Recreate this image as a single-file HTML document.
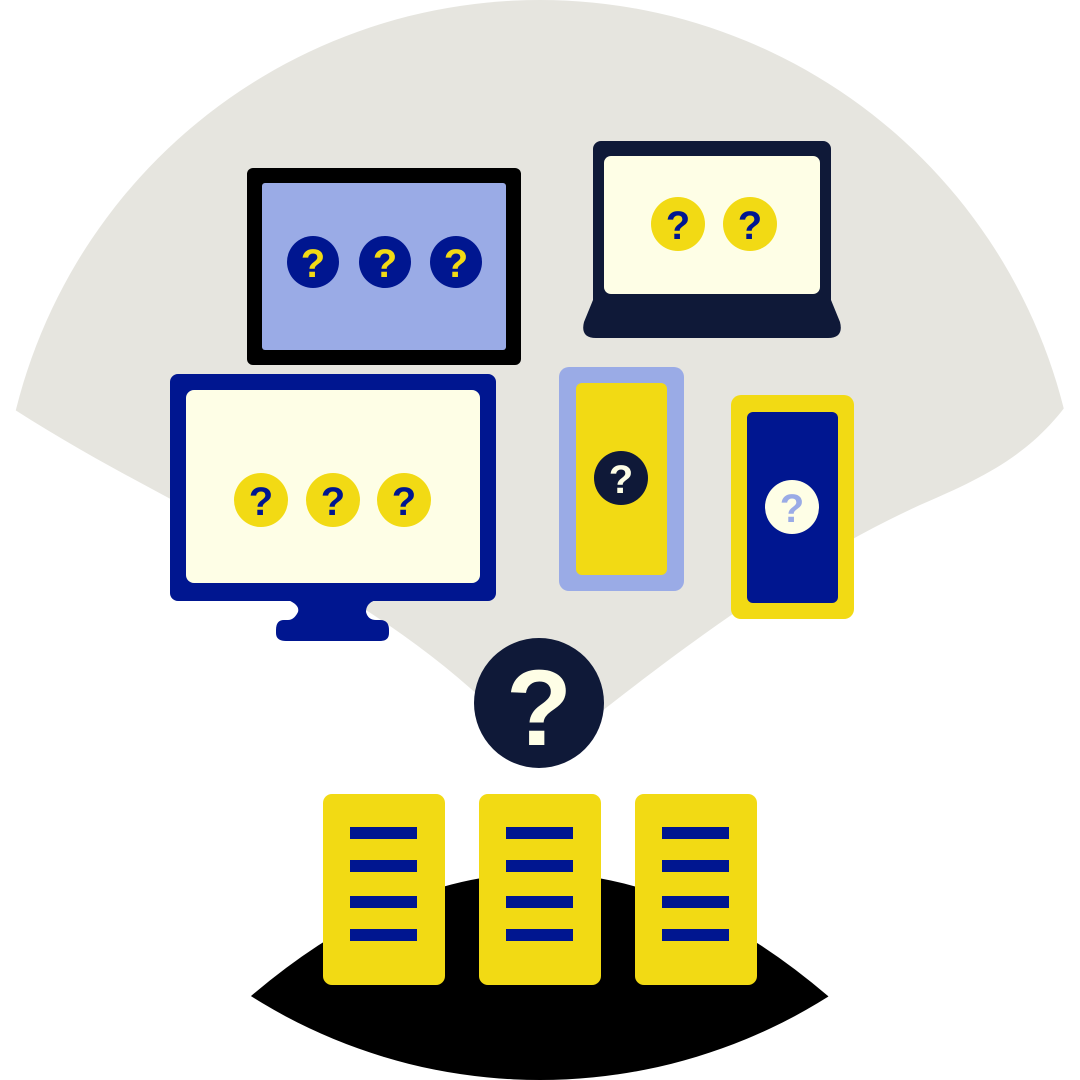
<!DOCTYPE html>
<html><head><style>
html,body{margin:0;padding:0;background:#fff;}
svg{display:block;}
text{font-family:"Liberation Sans",sans-serif;font-weight:bold;text-anchor:middle;}
</style></head><body>
<svg width="1080" height="1080" viewBox="0 0 1080 1080" xmlns="http://www.w3.org/2000/svg">
<defs><clipPath id="c"><circle cx="540" cy="540" r="540"/></clipPath></defs>
<g clip-path="url(#c)">
<path d="M0,400 C180,520 400,590 540,760 C690,640 800,560 920,505 C990,475 1040,450 1080,385 L1080,0 L0,0 Z" fill="#e6e5df"/>
<path d="M251,996 Q540,750 828,996 L900,1080 L180,1080 Z" fill="#000"/>
</g>
<!-- black monitor -->
<rect x="247" y="168" width="274" height="197" rx="6" fill="#000"/>
<rect x="262" y="183" width="244" height="167" rx="3" fill="#9aabe6"/>
<g font-size="40">
<circle cx="313" cy="262" r="26" fill="#001690"/><text x="313" y="277" fill="#f2da14">?</text>
<circle cx="385" cy="262" r="26" fill="#001690"/><text x="385" y="277" fill="#f2da14">?</text>
<circle cx="456" cy="262" r="26" fill="#001690"/><text x="456" y="277" fill="#f2da14">?</text>
</g>
<!-- laptop -->
<rect x="593" y="141" width="238" height="170" rx="8" fill="#0f1938"/>
<path d="M593,300 L584,322 Q580,338 596,338 L828,338 Q844,338 840,322 L831,300 Z" fill="#0f1938"/>
<rect x="604" y="156" width="216" height="138" rx="7" fill="#fefee6"/>
<g font-size="40">
<circle cx="678" cy="224" r="27" fill="#f2da14"/><text x="678" y="239" fill="#001690">?</text>
<circle cx="750" cy="224" r="27" fill="#f2da14"/><text x="750" y="239" fill="#001690">?</text>
</g>
<!-- tablet -->
<rect x="559" y="367" width="125" height="224" rx="10" fill="#9aabe6"/>
<rect x="576" y="383" width="91" height="192" rx="6" fill="#f2da14"/>
<circle cx="621" cy="478" r="27" fill="#0f1938"/><text x="621" y="493" font-size="40" fill="#fefee6">?</text>
<!-- phone -->
<rect x="731" y="395" width="123" height="224" rx="10" fill="#f2da14"/>
<rect x="747" y="412" width="91" height="191" rx="6" fill="#001690"/>
<circle cx="792" cy="507" r="27" fill="#fefee6"/><text x="792" y="522" font-size="40" fill="#9aabe6">?</text>
<!-- desktop monitor -->
<rect x="170" y="374" width="326" height="227" rx="8" fill="#001690"/>
<path d="M288,600 Q300,605 298,612 Q294,620 288,620 L284,620 Q276,620 276,630 L276,633 Q276,641 286,641 L380,641 Q389,641 389,633 L389,630 Q389,620 380,620 L376,620 Q368,620 366,612 Q366,603 376,600 Z" fill="#001690"/>
<rect x="186" y="390" width="294" height="193" rx="8" fill="#fefee6"/>
<g font-size="40">
<circle cx="261" cy="500" r="27" fill="#f2da14"/><text x="261" y="515" fill="#001690">?</text>
<circle cx="333" cy="500" r="27" fill="#f2da14"/><text x="333" y="515" fill="#001690">?</text>
<circle cx="404" cy="500" r="27" fill="#f2da14"/><text x="404" y="515" fill="#001690">?</text>
</g>
<!-- big circle -->
<circle cx="539" cy="703" r="65" fill="#0f1938"/>
<text x="539" y="745" font-size="108" fill="#fefee6">?</text>
<!-- servers -->
<g fill="#f2da14">
<rect x="323" y="794" width="122" height="191" rx="9"/>
<rect x="479" y="794" width="122" height="191" rx="9"/>
<rect x="635" y="794" width="122" height="191" rx="9"/>
</g>
<g fill="#001690">
<rect x="350" y="827" width="67" height="12"/><rect x="350" y="860" width="67" height="12"/><rect x="350" y="896" width="67" height="12"/><rect x="350" y="929" width="67" height="12"/>
<rect x="506" y="827" width="67" height="12"/><rect x="506" y="860" width="67" height="12"/><rect x="506" y="896" width="67" height="12"/><rect x="506" y="929" width="67" height="12"/>
<rect x="662" y="827" width="67" height="12"/><rect x="662" y="860" width="67" height="12"/><rect x="662" y="896" width="67" height="12"/><rect x="662" y="929" width="67" height="12"/>
</g>
</svg>
</body></html>
